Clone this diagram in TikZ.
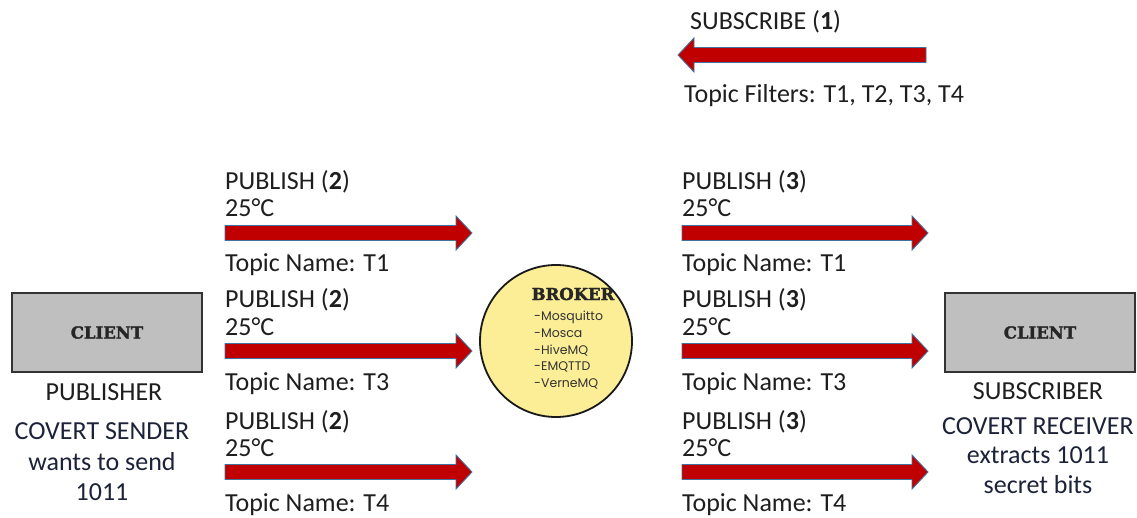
\documentclass[tikz,border=0pt]{standalone}
\usepackage{fontspec}
\setmainfont{Carlito}
\newfontfamily\slabfont[BoldFeatures={FakeBold=2}]{DejaVu Serif}
\newfontfamily\listfont{Poppins}
\usetikzlibrary{calc}
\definecolor{arrred}{HTML}{C00000}
\definecolor{arrline}{HTML}{41719C}
\definecolor{boxgray}{HTML}{BFBFBF}
\definecolor{brokeryellow}{HTML}{FBEE96}
\definecolor{txt}{HTML}{1E1E1E}
\definecolor{covert}{HTML}{1C2238}
\tikzset{
  blockarrow/.style={fill=arrred, draw=arrline, line width=0.9pt, line join=miter},
  lbl/.style={anchor=base west, inner sep=0pt, text=txt, font=\fontsize{26}{29}\selectfont},
  clbl/.style={anchor=base, inner sep=0pt, text=txt, font=\fontsize{26}{29}\selectfont},
  cov/.style={anchor=base, inner sep=0pt, text=covert, font=\fontsize{26}{29}\selectfont},
  clientbox/.style={draw=black!80, line width=1.8pt, fill=boxgray, minimum width=190pt, minimum height=79pt, inner sep=0pt},
  clienttxt/.style={font=\slabfont\bfseries\fontsize{16.5}{18}\selectfont, text=black!85},
}
% block arrow between two named coordinates (horizontal)
\newcommand\blockarr[2]{%
  \path[blockarrow] let \p1=(#1), \p2=(#2), \n1={ifthenelse(\x2>\x1,1,-1)} in
    (\x1,\y1-7.5pt) -- (\x2-\n1*16pt,\y1-7.5pt) -- (\x2-\n1*16pt,\y1-17pt) --
    (\x2,\y1) -- (\x2-\n1*16pt,\y1+17pt) -- (\x2-\n1*16pt,\y1+7.5pt) --
    (\x1,\y1+7.5pt) -- cycle;}
\begin{document}
\begin{tikzpicture}[x=1pt,y=-1pt]
\useasboundingbox (0,0) rectangle (1137,518);

% subscribe
\node[lbl] (subT) at (690,30) {SUBSCRIBE (\textbf{1})};
\coordinate (subS) at (926,55);
\coordinate (subE) at (678,55);
\blockarr{subS}{subE}
\node[lbl] (subF) at (684,103) {Topic Filters: T1, T2, T3, T4};

% left publish rows
\foreach \i/\y/\t in {1/233/T1, 2/351/T3, 3/472/T4}{
  \node[lbl] (lp\i) at (225,\y-43) {PUBLISH (\textbf{2})};
  \node[lbl] (lv\i) at (225,\y-16) {25°C};
  \coordinate (ls\i) at (225,\y);
  \coordinate (le\i) at (472,\y);
  \blockarr{ls\i}{le\i}
  \node[lbl] (lt\i) at (225,\y+39) {Topic Name: \t};
}
% right publish rows
\foreach \i/\y/\t in {1/233/T1, 2/351/T3, 3/472/T4}{
  \node[lbl] (rp\i) at (682,\y-43) {PUBLISH (\textbf{3})};
  \node[lbl] (rv\i) at (682,\y-16) {25°C};
  \coordinate (rs\i) at (682,\y);
  \coordinate (re\i) at (928,\y);
  \blockarr{rs\i}{re\i}
  \node[lbl] (rt\i) at (682,\y+39) {Topic Name: \t};
}

% broker
\node[circle, draw=black!90, line width=1.8pt, fill=brokeryellow, minimum size=152pt, inner sep=0pt] (broker) at (556,341) {};
\node[font=\slabfont\bfseries\fontsize{16.5}{18}\selectfont, text=black!85, inner sep=0pt] (brokerT) at (573,294) {BROKER};
\node[anchor=north west, align=left, inner sep=0pt, font=\listfont\fontsize{12.5}{16.7}\selectfont, text=black!80] (brokerL) at (534,311)
  {-Mosquitto\\-Mosca\\-HiveMQ\\-EMQTTD\\-VerneMQ};

% clients
\node[clientbox] (cl) at (107,332.5) {};
\node[clienttxt] (clT) at (cl) {CLIENT};
\node[clbl] (pubL) at (104,400) {PUBLISHER};
\node[cov] (cov1) at (102,439) {COVERT SENDER};
\node[cov] (cov2) at (102,470) {wants to send};
\node[cov] (cov3) at (102,500) {1011};

\node[clientbox] (cr) at (1040,332.5) {};
\node[clienttxt] (crT) at (cr) {CLIENT};
\node[clbl] (subL) at (1038,399) {SUBSCRIBER};
\node[cov] (cov4) at (1038,434) {COVERT RECEIVER};
\node[cov] (cov5) at (1038,463) {extracts 1011};
\node[cov] (cov6) at (1038,493) {secret bits};
\end{tikzpicture}
\end{document}
